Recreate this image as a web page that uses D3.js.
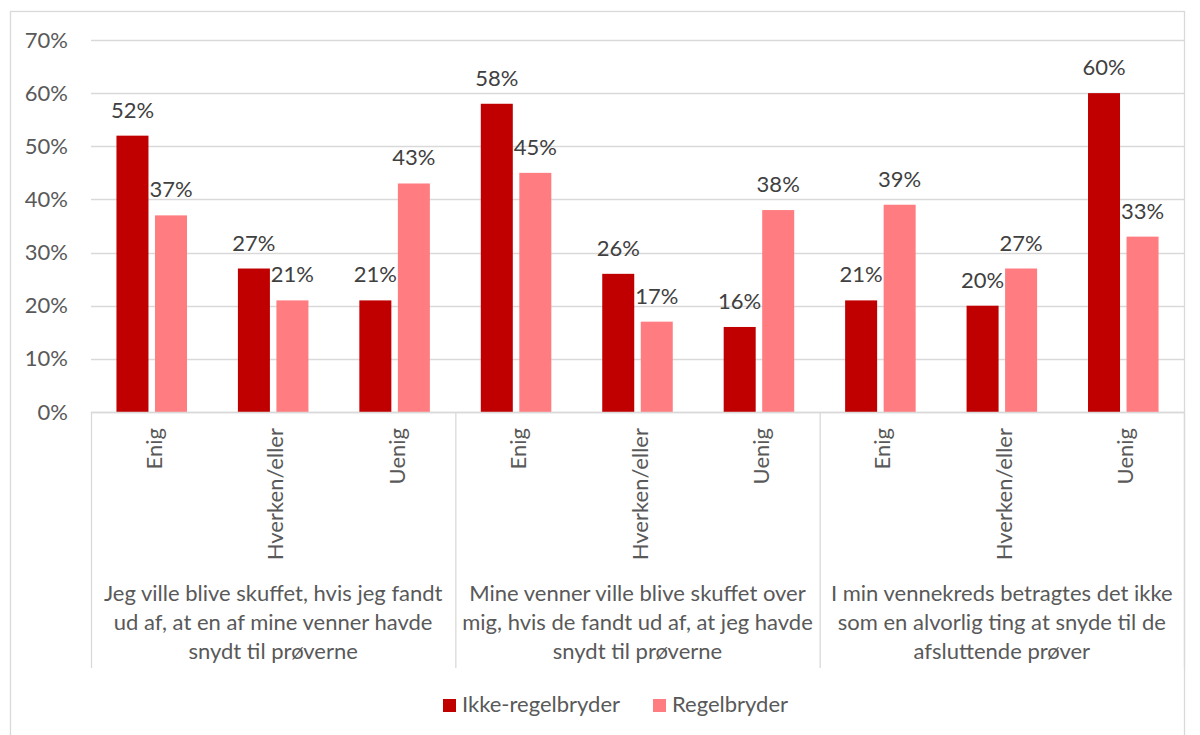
<!DOCTYPE html>
<html><head><meta charset="utf-8">
<script src="https://cdn.jsdelivr.net/npm/d3@7"></script>
<style>
html,body{margin:0;padding:0;background:#fff;}
svg{display:block;font-family:Lato, "Open Sans", sans-serif;}
</style></head>
<body>
<svg id="chart" width="1200" height="735"></svg>
<script>
const groups = [
  ["Jeg ville blive skuffet, hvis jeg fandt", "ud af, at en af mine venner havde", "snydt til prøverne"],
  ["Mine venner ville blive skuffet over", "mig, hvis de fandt ud af, at jeg havde", "snydt til prøverne"],
  ["I min vennekreds betragtes det ikke", "som en alvorlig ting at snyde til de", "afsluttende prøver"]
];
const answers = ["Enig", "Hverken/eller", "Uenig"];
const seriesNames = ["Ikke-regelbryder", "Regelbryder"];
const ikkeRegelbryder = [52, 27, 21, 58, 26, 16, 21, 20, 60];
const regelbryder = [37, 21, 43, 45, 17, 38, 39, 27, 33];
const yTicks = [0, 10, 20, 30, 40, 50, 60, 70];
const colors = ["#C00000", "#FF7C80"];

(function () {
const svg = d3.select("#chart");
const textColor = "#595959";
const gridColor = "#d9d9d9";
const fs = "22px";

// chart border
svg.append("rect").attr("x", 10.5).attr("y", 11.5).attr("width", 1174).attr("height", 760)
  .attr("fill", "none").attr("stroke", gridColor).attr("stroke-width", 1.3);

const pLeft = 91, pRight = 1184, pTop = 40, pBottom = 412;
const cats = d3.range(groups.length * answers.length);
const x = d3.scaleBand().domain(cats).range([pLeft, pRight]).padding(0);
const xs = d3.scaleBand().domain(seriesNames).range([0, x.bandwidth()])
  .paddingInner(0.169).paddingOuter(0.661);
const y = d3.scaleLinear().domain([0, 70]).range([pBottom, pTop]);

// gridlines
svg.append("g").selectAll("line").data(yTicks).join("line")
  .attr("x1", pLeft).attr("x2", pRight)
  .attr("y1", d => Math.round(y(d)) + 0.5).attr("y2", d => Math.round(y(d)) + 0.5)
  .attr("stroke", gridColor).attr("stroke-width", 1.3);

// y axis labels
const yAxis = d3.axisLeft(y).tickValues(yTicks).tickFormat(d => d + "%").tickSize(0).tickPadding(0);
const yg = svg.append("g").attr("transform", `translate(68,0)`).call(yAxis);
yg.select(".domain").remove();
yg.selectAll("text").attr("fill", textColor).style("font-size", fs).style("font-family", "Lato");

// bars
const data = [];
cats.forEach(i => {
  data.push({i, s: seriesNames[0], v: ikkeRegelbryder[i]});
  data.push({i, s: seriesNames[1], v: regelbryder[i]});
});
svg.append("g").selectAll("rect").data(data).join("rect")
  .attr("x", d => x(d.i) + xs(d.s))
  .attr("width", xs.bandwidth())
  .attr("y", d => y(d.v))
  .attr("height", d => y(0) - y(d.v))
  .attr("fill", d => colors[seriesNames.indexOf(d.s)]);

// data labels
svg.append("g").selectAll("text").data(data).join("text")
  .attr("x", d => x(d.i) + xs(d.s) + xs.bandwidth() / 2)
  .attr("y", d => y(d.v) - 18)
  .attr("text-anchor", "middle")
  .attr("fill", "#404040")
  .style("font-size", fs)
  .text(d => d.v + "%");

// category axis line
svg.append("line").attr("x1", pLeft).attr("x2", pRight).attr("y1", pBottom + 0.5).attr("y2", pBottom + 0.5)
  .attr("stroke", gridColor).attr("stroke-width", 1.3);
// group separators
const sepX = d3.range(groups.length + 1).map(g => g < groups.length ? x(g * answers.length) : pRight);
svg.append("g").selectAll("line").data(sepX).join("line")
  .attr("x1", d => d + 0.5).attr("x2", d => d + 0.5)
  .attr("y1", pBottom).attr("y2", 668)
  .attr("stroke", gridColor).attr("stroke-width", 1.3);

// rotated answer labels
svg.append("g").selectAll("text").data(cats).join("text")
  .attr("transform", d => `translate(${x(d) + x.bandwidth() / 2 + 10},428) rotate(-90)`)
  .attr("text-anchor", "end")
  .attr("fill", textColor)
  .style("font-size", fs)
  .text(d => answers[d % answers.length]);

// group labels
groups.forEach((lines, g) => {
  const cx = (sepX[g] + sepX[g + 1]) / 2;
  const t = svg.append("text").attr("text-anchor", "middle").attr("fill", textColor).style("font-size", fs);
  lines.forEach((ln, k) => {
    t.append("tspan").attr("x", cx).attr("y", 601 + k * 29).text(ln);
  });
});

// legend
const legX = [443, 653];
seriesNames.forEach((s, k) => {
  svg.append("rect").attr("x", legX[k]).attr("y", 699).attr("width", 13).attr("height", 13).attr("fill", colors[k]);
  svg.append("text").attr("x", legX[k] + 19).attr("y", 712).attr("fill", textColor)
    .style("font-size", fs).text(s);
});
})();
</script>
</body></html>
